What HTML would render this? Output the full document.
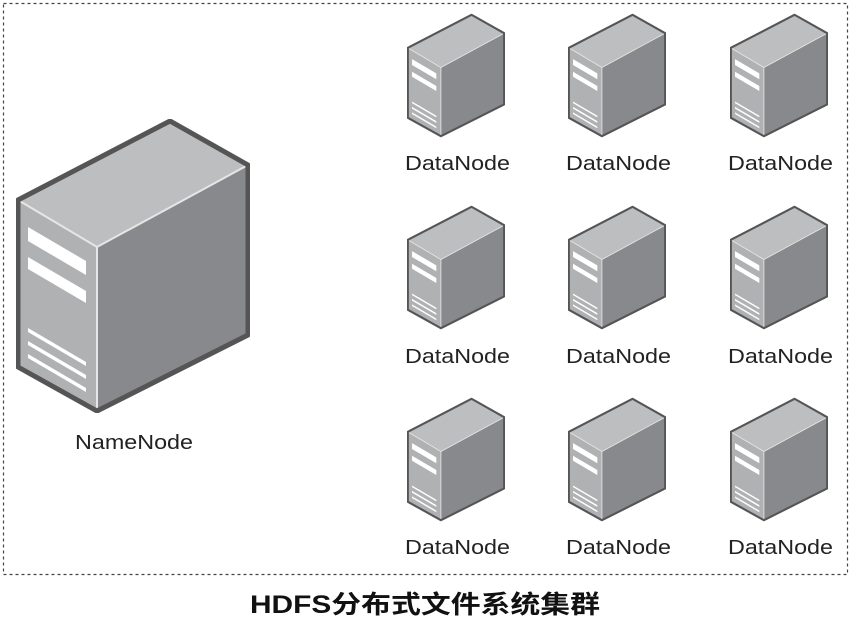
<!DOCTYPE html>
<html><head><meta charset="utf-8"><style>
body{margin:0;background:#fff;width:851px;height:618px;overflow:hidden;font-family:"Liberation Sans","Noto Sans CJK SC",sans-serif}
</style></head><body>
<svg width="851" height="618" viewBox="0 0 851 618" xmlns="http://www.w3.org/2000/svg">
<defs>
<symbol id="srv" viewBox="0 0 234 294">
<polygon points="2,81 154,2 232,46 81,128" fill="#bdbec0"/>
<polygon points="81,128 232,46 232,216 81,292" fill="#88898c"/>
<polygon points="2,81 81,128 81,292 2,248" fill="#b0b1b3"/>
<polyline points="2,81 81,128 232,46" fill="none" stroke="#e6e6e6" stroke-width="2"/>
<line x1="81" y1="128" x2="81" y2="292" stroke="#e6e6e6" stroke-width="2"/>
<polygon points="2,81 154,2 232,46 232,216 81,292 2,248" fill="none" stroke="#555" stroke-width="5" stroke-linejoin="round"/>
<g fill="#fff">
<polygon points="12,108 70,142 70,156 12,122"/>
<polygon points="12,138 70,172 70,184 12,150"/>
<polygon points="12,209 70,243 70,247 12,213"/>
<polygon points="12,222 70,256 70,260 12,226"/>
<polygon points="12,235 70,269 70,273 12,239"/>
</g>
</symbol>
</defs>
<rect x="3.5" y="3.5" width="844" height="571" fill="none" stroke="#444" stroke-width="1.2" stroke-dasharray="3,3"/>
<use href="#srv" x="16" y="119" width="234" height="294"/>
<text x="75" y="449" font-size="20" textLength="118" lengthAdjust="spacingAndGlyphs" fill="#222">NameNode</text>
<g font-size="20" fill="#222">
<use href="#srv" x="407" y="13" width="98" height="125"/><text x="405" y="170" textLength="105" lengthAdjust="spacingAndGlyphs">DataNode</text>
<use href="#srv" x="568" y="13" width="98" height="125"/><text x="566" y="170" textLength="105" lengthAdjust="spacingAndGlyphs">DataNode</text>
<use href="#srv" x="730" y="13" width="98" height="125"/><text x="728" y="170" textLength="105" lengthAdjust="spacingAndGlyphs">DataNode</text>
<use href="#srv" x="407" y="205" width="98" height="125"/><text x="405" y="363" textLength="105" lengthAdjust="spacingAndGlyphs">DataNode</text>
<use href="#srv" x="568" y="205" width="98" height="125"/><text x="566" y="363" textLength="105" lengthAdjust="spacingAndGlyphs">DataNode</text>
<use href="#srv" x="730" y="205" width="98" height="125"/><text x="728" y="363" textLength="105" lengthAdjust="spacingAndGlyphs">DataNode</text>
<use href="#srv" x="407" y="397" width="98" height="125"/><text x="405" y="554" textLength="105" lengthAdjust="spacingAndGlyphs">DataNode</text>
<use href="#srv" x="568" y="397" width="98" height="125"/><text x="566" y="554" textLength="105" lengthAdjust="spacingAndGlyphs">DataNode</text>
<use href="#srv" x="730" y="397" width="98" height="125"/><text x="728" y="554" textLength="105" lengthAdjust="spacingAndGlyphs">DataNode</text>
</g>
<text x="250" y="613" font-size="25" font-weight="bold" textLength="350" lengthAdjust="spacingAndGlyphs" fill="#111">HDFS分布式文件系统集群</text>
</svg>
</body></html>
